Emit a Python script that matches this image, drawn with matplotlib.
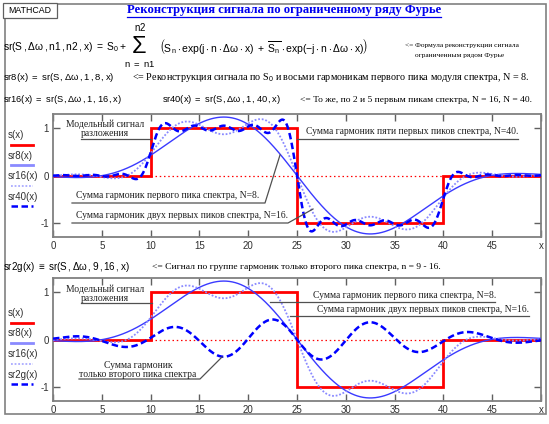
import numpy as np
import matplotlib
matplotlib.use("Agg")
import matplotlib.pyplot as plt
from matplotlib.patches import Rectangle
from matplotlib.lines import Line2D

# ---------------- data ----------------
sig_edges = [0, 10, 25, 40, 50]          # model signal breakpoints
sig_levels = [0, 1, -1, 0]               # model signal levels
period = 120                             # expansion interval (2*pi/dw)
harm_sr8 = (1, 8)
harm_sr16 = (1, 16)
harm_sr40 = (1, 40)
harm_sr2g = (9, 16)
xticks = [0, 5, 10, 15, 20, 25, 30, 35, 40, 45, 50]
xticklabels = ["0", "5", "10", "15", "20", "25", "30", "35", "40", "45", "x"]
yticks = [-1, 0, 1]
yticklabels = ["-1", "0", "1"]

W, H = 549, 424
plt.rcParams['mathtext.fontset'] = 'custom'
plt.rcParams['mathtext.rm'] = 'Liberation Sans'
plt.rcParams['mathtext.it'] = 'Liberation Sans:italic'
plt.rcParams['mathtext.bf'] = 'Liberation Sans:bold'

fig = plt.figure(figsize=(W / 100, H / 100), dpi=100)
fig.patch.set_facecolor('white')


def fx(x):
    return x / W


def fy(y):
    return 1 - y / H


SANS = ['Liberation Sans', 'DejaVu Sans']
SERIF = ['Liberation Serif', 'DejaVu Serif']


def txt(x, y, s, size=7.2, fam=SANS, **kw):
    kw.setdefault('va', 'center')
    kw.setdefault('ha', 'left')
    fig.text(fx(x), fy(y), s, fontsize=size, family=fam, **kw)


# Fourier coefficients of the model signal
dw = 2 * np.pi / period


def coef(n):
    if n == 0:
        return sum(l * (b - a) for l, a, b in zip(sig_levels, sig_edges[:-1], sig_edges[1:])) / period
    c = 0j
    for l, a, b in zip(sig_levels, sig_edges[:-1], sig_edges[1:]):
        c += l * (np.exp(-1j * n * dw * a) - np.exp(-1j * n * dw * b)) / (1j * n * dw)
    return c / period


def sr(n1, n2, x):
    y = np.full_like(x, coef(0).real)
    for n in range(n1, n2 + 1):
        Sn = coef(n)
        y = y + 2 * np.real(Sn * np.exp(1j * n * dw * x))
    return y


xs = np.linspace(0, 50, 1500)

# ---------------- frame ----------------
fig.add_artist(Rectangle((fx(5), fy(414)), fx(541), 410 / H, transform=fig.transFigure,
                         fill=False, edgecolor='#808080', lw=1.2))
fig.add_artist(Rectangle((fx(3), fy(18)), fx(54), 15 / H, transform=fig.transFigure,
                         fill=True, facecolor='white', edgecolor='#606060', lw=0.9))
txt(30, 10.5, "MATHCAD", size=6.3, ha='center')

# title
fig.text(fx(284), fy(10), "Реконструкция сигнала по ограниченному ряду Фурье", fontsize=9.1,
         family=SERIF, weight='bold', color='#0000ee', ha='center', va='center')
fig.add_artist(Line2D([fx(127), fx(441)], [fy(17), fy(17)], color='#0000ee', lw=0.9))

# formula
txt(3, 47, r'$\mathrm{sr(S\,,\Delta\omega\,,n1\,,n2\,,x)\ =\ S_0+}$', size=7.4)
txt(139, 47, r'$\mathrm{\Sigma}$', size=17, ha='center')
txt(140, 27, r'$\mathrm{n2}$', size=7.0, ha='center')
txt(140, 64, r'$\mathrm{n\ =\ n1}$', size=6.8, ha='center')
txt(159, 47, r'$\mathrm{\left(S_n\cdot exp(j\cdot n\cdot \Delta\omega\cdot x)\ +\ \overline{S_n}\cdot exp(-j\cdot n\cdot \Delta\omega\cdot x)\right)}$', size=7.5)
txt(405, 45, "<= Формула реконструкции сигнала", size=5.3, fam=SERIF)
txt(460, 55, "ограниченным рядом Фурье", size=5.3, fam=SERIF, ha='center')

txt(3, 77, r'$\mathrm{sr8(x)\ =\ sr(S\,,\Delta\omega\,,1\,,8\,,x)}$', size=6.8)
txt(132, 77, r'<= Реконструкция сигнала по S$_0$ и восьми гармоникам первого пика модуля спектра, N = 8.',
    size=7.3, fam=SERIF)
txt(3, 100, r'$\mathrm{sr16(x)\ =\ sr(S\,,\Delta\omega\,,1\,,16\,,x)}$', size=6.7)
txt(162, 100, r'$\mathrm{sr40(x)\ =\ sr(S\,,\Delta\omega\,,1\,,40\,,x)}$', size=6.7)
txt(300, 100, "<= То же, по 2 и 5 первым пикам спектра, N = 16, N = 40.", size=6.8, fam=SERIF)

txt(3, 267, r'$\mathrm{sr2g(x)\ \equiv\ sr(S\,,\Delta\omega\,,9\,,16\,,x)}$', size=7.1)
txt(152, 267, "<= Сигнал по группе гармоник только второго пика спектра, n = 9 - 16.", size=6.8, fam=SERIF)

C_RED = '#ff0000'
C_SR8 = '#3a3aff'
C_SR16 = '#8a8aff'
C_SR40 = '#0000ff'
C_NOTE = '#505050'


def setup_axes(top):
    ax = fig.add_axes([fx(53), fy(top + 123), fx(488), 123 / H])
    ax.set_xlim(0, 50)
    ax.set_ylim(-1.3, 1.3)
    for s in ax.spines.values():
        s.set_color('#808080')
        s.set_linewidth(1.3)
    ax.set_xticks(xticks)
    ax.set_xticklabels(xticklabels)
    ax.set_yticks(yticks)
    ax.set_yticklabels(yticklabels)
    ax.tick_params(direction='in', length=5, width=1, color='#606060', top=True, right=True,
                   labelsize=7.0, labelcolor='#303030', pad=3)
    for lab in ax.get_xticklabels() + ax.get_yticklabels():
        lab.set_family(SANS)
    ax.axhline(0, color=C_RED, lw=0.9, ls=(0, (1.2, 2.2)), zorder=1)
    ax.stairs(sig_levels, sig_edges, baseline=None, color=C_RED, lw=2.0, zorder=3)
    return ax


def leg(entries, y0):
    for i, (lab, style) in enumerate(entries):
        yt = y0 + i * 20.5
        txt(8, yt, lab, size=7.0, color='#303030')
        fig.add_artist(Line2D([fx(11), fx(33)], [fy(yt + 9.5), fy(yt + 9.5)], transform=fig.transFigure, **style))


def note(lines_text, tx, ty, seg, ha='center'):
    txt(tx, ty, lines_text, size=6.9, fam=SERIF, ha=ha, linespacing=0.95, color='#202020')
    xs_, ys_ = zip(*seg)
    fig.add_artist(Line2D([fx(v) for v in xs_], [fy(v) for v in ys_], color=C_NOTE, lw=0.9))


# ---------------- upper plot ----------------
ax1 = setup_axes(114)
ax1.plot(xs, sr(*harm_sr8, xs), color=C_SR8, lw=1.0, zorder=4)
ax1.plot(xs, sr(*harm_sr16, xs), color=C_SR16, lw=1.3, ls=(0, (1, 1)), zorder=4)
ax1.plot(xs, sr(*harm_sr40, xs), color=C_SR40, lw=1.8, ls=(0, (2.6, 1.4)), zorder=5)

leg([("s(x)", dict(color=C_RED, lw=2)),
     ("sr8(x)", dict(color='#8a8aff', lw=2)),
     ("sr16(x)", dict(color='#aaaaff', lw=1.3, ls=(0, (1, 1)))),
     ("sr40(x)", dict(color=C_SR40, lw=1.8, ls=(0, (2.6, 1.4))))], 135)

note("Модельный сигнал\nразложения", 105, 129, [(81, 139), (151, 139)])
note("Сумма гармоник пяти первых пиков спектра, N=40.", 518, 132, [(297, 138.5), (518, 138.5)], ha='right')
note("Сумма гармоник первого пика спектра, N=8.", 76, 196, [(72, 203), (265, 203), (280, 155)], ha='left')
note("Сумма гармоник двух первых пиков спектра, N=16.", 76, 216, [(72, 223), (288, 223), (313, 209)], ha='left')

# ---------------- lower plot ----------------
ax2 = setup_axes(278)
ax2.plot(xs, sr(*harm_sr8, xs), color=C_SR8, lw=1.0, zorder=4)
ax2.plot(xs, sr(*harm_sr16, xs), color=C_SR16, lw=1.3, ls=(0, (1, 1)), zorder=4)
ax2.plot(xs, sr(*harm_sr2g, xs), color=C_SR40, lw=1.8, ls=(0, (2.6, 1.4)), zorder=5)

leg([("s(x)", dict(color=C_RED, lw=2)),
     ("sr8(x)", dict(color='#8a8aff', lw=2)),
     ("sr16(x)", dict(color='#aaaaff', lw=1.3, ls=(0, (1, 1)))),
     ("sr2g(x)", dict(color=C_SR40, lw=1.8, ls=(0, (2.6, 1.4))))], 313)

note("Модельный сигнал\nразложения", 105, 294, [(81, 303), (152, 303)])
note("Сумма гармоник первого пика спектра, N=8.", 496, 295, [(270, 302), (495, 302)], ha='right')
note("Сумма гармоник двух первых пиков спектра, N=16.", 529, 309, [(290, 316), (529, 316)], ha='right')
note("Сумма гармоник\nтолько второго пика спектра", 138, 370, [(79, 379), (200, 379), (222, 357)])

fig.savefig("out.png", dpi=100, facecolor='white')
